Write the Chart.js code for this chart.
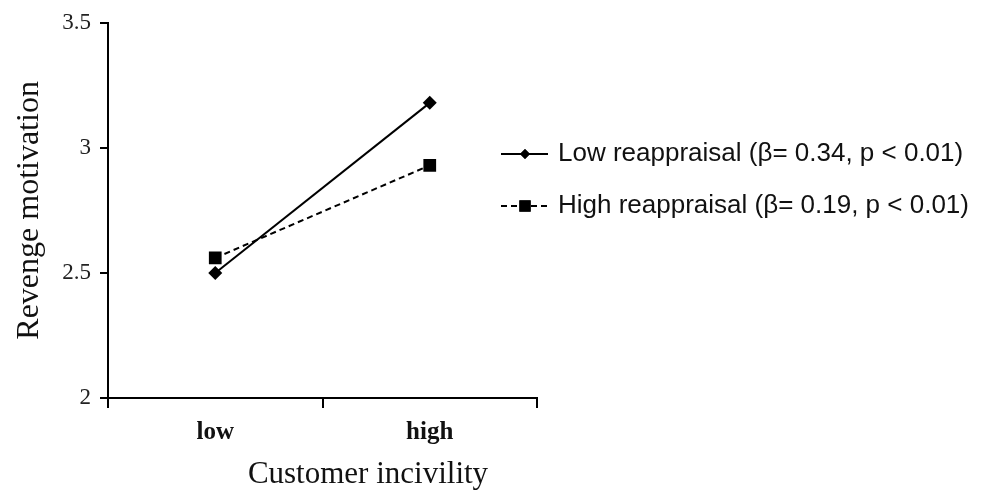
<!DOCTYPE html>
<html>
<head>
<meta charset="utf-8">
<script src="https://cdn.jsdelivr.net/npm/chart.js@4"></script>
<style>
  html, body { margin: 0; padding: 0; background: #ffffff; }
  #wrap { width: 987px; height: 497px; position: relative; }
</style>
</head>
<body>
<div id="wrap"><canvas id="c" width="987" height="497"></canvas></div>
<script>
const categories = ["low", "high"];
const seriesNames = ["Low reappraisal (\u03B2= 0.34, p < 0.01)", "High reappraisal (\u03B2= 0.19, p < 0.01)"];
const lowReappraisal = [2.50, 3.18];
const highReappraisal = [2.56, 2.93];
const yTicks = [2, 2.5, 3, 3.5];
const xTitle = "Customer incivility";
const yTitle = "Revenge motivation";

const serif = "'Liberation Serif', 'Times New Roman', serif";
const sans = "'Liberation Sans', Arial, sans-serif";

const legendAndTitle = {
  id: 'legendAndTitle',
  afterDraw(chart) {
    const ctx = chart.ctx;
    ctx.save();
    // x-axis title
    ctx.font = "31px " + serif;
    ctx.fillStyle = "#111";
    ctx.textAlign = "center";
    ctx.textBaseline = "middle";
    ctx.fillText(xTitle, 368, 475);
    // legend
    const rows = [154, 206];
    chart.data.datasets.forEach((ds, i) => {
      const y = rows[i];
      ctx.strokeStyle = ds.borderColor;
      ctx.lineWidth = 2;
      ctx.setLineDash(ds.borderDash || []);
      ctx.beginPath();
      ctx.moveTo(501, y);
      ctx.lineTo(548, y);
      ctx.stroke();
      ctx.setLineDash([]);
      Chart.helpers.drawPoint(ctx, {
        pointStyle: ds.pointStyle,
        radius: ds.legendRadius,
        borderWidth: 0
      }, 525, y);
      ctx.fillStyle = "#000";
      ctx.fill();
      ctx.font = "26px " + sans;
      ctx.fillStyle = "#111";
      ctx.textAlign = "left";
      ctx.textBaseline = "middle";
      ctx.fillText(ds.label, 558, y);
    });
    ctx.restore();
  }
};

new Chart(document.getElementById('c'), {
  type: 'line',
  data: {
    labels: categories,
    datasets: [
      {
        label: seriesNames[0],
        data: lowReappraisal,
        borderColor: '#000',
        backgroundColor: '#000',
        borderWidth: 2,
        pointStyle: 'rectRot',
        pointRadius: 7,
        legendRadius: 5,
        pointBorderWidth: 0,
        pointBackgroundColor: '#000',
        tension: 0
      },
      {
        label: seriesNames[1],
        data: highReappraisal,
        borderColor: '#000',
        backgroundColor: '#000',
        borderWidth: 2,
        borderDash: [6, 4],
        pointStyle: 'rect',
        pointRadius: 9,
        legendRadius: 8,
        pointBorderWidth: 0,
        pointBackgroundColor: '#000',
        tension: 0
      }
    ]
  },
  options: {
    responsive: false,
    animation: false,
    devicePixelRatio: 1,
    layout: { padding: { left: 0, right: 450, top: 22, bottom: 0 } },
    plugins: {
      legend: { display: false },
      tooltip: { enabled: false }
    },
    scales: {
      x: {
        type: 'category',
        offset: true,
        afterFit(scale) { scale.height = 99; },
        grid: {
          offset: true,
          drawOnChartArea: false,
          drawTicks: true,
          tickLength: 10,
          color: '#000',
          lineWidth: 2
        },
        border: { display: true, color: '#000', width: 2 },
        ticks: {
          color: '#111',
          padding: 10,
          font: { family: serif, size: 25, weight: 'bold' }
        }
      },
      y: {
        min: 2,
        max: 3.5,
        afterFit(scale) { scale.width = 108; },
        afterBuildTicks(scale) { scale.ticks = yTicks.map(v => ({ value: v })); },
        grid: {
          drawOnChartArea: false,
          drawTicks: true,
          tickLength: 8,
          color: '#000',
          lineWidth: 2
        },
        border: { display: true, color: '#000', width: 2 },
        ticks: {
          color: '#222',
          padding: 9,
          font: { family: serif, size: 23 },
          callback: (v) => String(v)
        },
        title: {
          display: true,
          text: yTitle,
          color: '#111',
          padding: { top: 10, bottom: 0 },
          font: { family: serif, size: 32 }
        }
      }
    }
  },
  plugins: [legendAndTitle]
});
</script>
</body>
</html>
